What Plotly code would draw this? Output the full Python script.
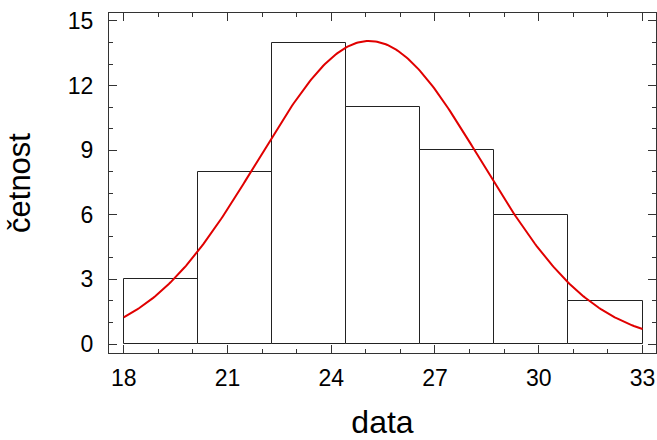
import numpy as np
import plotly.graph_objects as go

# Histogram data
bin_edges = [18.0, 20.142857, 22.285714, 24.428571, 26.571429, 28.714286, 30.857143, 33.0]
counts = [3, 8, 14, 11, 9, 6, 2]

# Fitted normal curve parameters
fit_mean = 25.1
fit_sd = 3.22
n_obs = sum(counts)

x_ticks = [18, 21, 24, 27, 30, 33]
y_ticks = [0, 3, 6, 9, 12, 15]

centers = [(a + b) / 2 for a, b in zip(bin_edges[:-1], bin_edges[1:])]
widths = [b - a for a, b in zip(bin_edges[:-1], bin_edges[1:])]
bw = widths[0]

xs = np.linspace(bin_edges[0], bin_edges[-1], 300)
ys = n_obs * bw / (fit_sd * np.sqrt(2 * np.pi)) * np.exp(-0.5 * ((xs - fit_mean) / fit_sd) ** 2)

fig = go.Figure()
fig.add_trace(go.Bar(
    x=centers, y=counts, width=widths,
    marker=dict(color="white", line=dict(color="#222222", width=1)),
    showlegend=False,
))
fig.add_trace(go.Scatter(
    x=xs, y=ys, mode="lines",
    line=dict(color="#e00000", width=2),
    showlegend=False,
))

font_family = "Liberation Sans, Arial, sans-serif"
fig.update_layout(
    width=657, height=440,
    margin=dict(l=109, r=1, t=13, b=87),
    plot_bgcolor="white", paper_bgcolor="white",
    font=dict(family=font_family, color="black"),
    bargap=0,
)
fig.update_xaxes(
    range=[17.575, 33.39],
    tickvals=x_ticks, ticktext=[str(v) for v in x_ticks],
    ticks="inside", ticklen=8, tickcolor="#333333",
    minor=dict(dtick=1, ticks="inside", ticklen=4, tickcolor="#333333", showgrid=False),
    showline=True, linecolor="#333333", linewidth=1, mirror="allticks",
    showgrid=False, zeroline=False,
    tickfont=dict(size=23),
    ticklabelstandoff=4,
    automargin=False,
    title=dict(text="data", font=dict(size=32), standoff=24),
)
fig.update_yaxes(
    range=[-0.418, 15.37],
    tickvals=y_ticks, ticktext=[str(v) for v in y_ticks],
    ticks="inside", ticklen=8, tickcolor="#333333",
    minor=dict(dtick=1, ticks="inside", ticklen=4, tickcolor="#333333", showgrid=False),
    showline=True, linecolor="#333333", linewidth=1, mirror="allticks",
    showgrid=False, zeroline=False,
    tickfont=dict(size=23),
    ticklabelstandoff=10,
    automargin=False,
    title=dict(text="četnost", font=dict(size=31), standoff=27),
)

fig.write_html(
    "out.html",
    config={"displayModeBar": False},
    post_script="document.body.style.margin='0';document.body.style.overflow='hidden';",
)
